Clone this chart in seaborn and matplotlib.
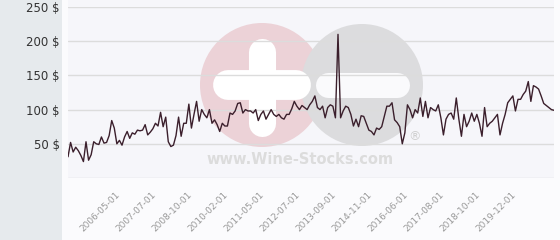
import matplotlib
matplotlib.use("Agg")
import matplotlib.pyplot as plt
import seaborn as sns
import pandas as pd
from matplotlib.patches import Circle, Rectangle

# ---- data ----
prices = [
    31, 52, 38, 45, 40, 33, 24, 53, 26, 34, 53, 50, 49, 60, 51, 52, 62, 84, 73, 50,
    55, 48, 60, 68, 58, 66, 64, 70, 69, 70, 78, 63, 67, 72, 80, 76, 96, 75, 89, 53,
    46, 48, 62, 89, 61, 80, 80, 108, 73,
    93, 112, 83, 100, 93, 88, 100, 80, 85, 78, 68, 80, 76, 76, 95, 93, 98, 109, 110, 95,
    100, 98, 98, 95, 100, 84, 93, 98, 86, 93, 100, 93, 90, 93, 88, 86, 93, 93, 101, 112,
    105, 100, 106, 103, 100, 107, 112, 120, 103, 100, 105, 88, 103, 107, 105, 88, 210, 88, 98, 105,
    103, 93, 76, 86, 75, 91, 90, 80, 70, 68, 63,
    73, 71, 75, 90, 105, 105, 110, 85, 81, 75, 50, 66, 107, 100, 88, 100, 95, 117, 90, 112,
    88, 103, 100, 98, 107, 88, 63, 86, 93, 95, 86, 117, 86, 61, 93, 75, 83, 95, 83, 93,
    80, 61, 103, 75, 80, 83, 88, 93, 63, 80, 93, 110, 115, 120, 98, 115, 115, 122, 127, 141,
    112, 135, 133, 130, 120, 109, 106, 103, 100, 99,
]
tick_labels = ["2006-05-01", "2007-07-01", "2008-10-01", "2010-02-01", "2011-05-01",
               "2012-07-01", "2013-09-01", "2014-11-01", "2016-06-01", "2017-08-01",
               "2018-10-01", "2019-12-01"]
y_ticks = [50, 100, 150, 200, 250]

df = pd.DataFrame({"idx": range(len(prices)), "price": prices})

sns.set_style("white")
plt.rcParams["font.family"] = ["DejaVu Sans"]

W, H = 560, 240
fig = plt.figure(figsize=(W / 100, H / 100), dpi=100, facecolor="#fbfbfd")

# background / decoration axes in pixel coordinates
bg = fig.add_axes([0, 0, 1, 1], zorder=0)
bg.set_xlim(0, W)
bg.set_ylim(H, 0)
bg.axis("off")
bg.add_patch(Rectangle((0, 0), 62, H, color="#e6eaed", lw=0))
bg.add_patch(Rectangle((68, 0), 486, 178, color="#f6f6fa", lw=0))
# watermark
bg.add_patch(Circle((262, 85), 62, color="#ecd2d7", lw=0))
bg.add_patch(Circle((362, 85), 61, color="#dcdcde", lw=0))
bg.plot([262, 262], [52, 123], color="white", lw=19.5, solid_capstyle="round")
bg.plot([228, 296], [85, 85], color="white", lw=21.5, solid_capstyle="round")
bg.plot([328, 397], [85, 85], color="#fafafc", lw=18, solid_capstyle="round")
bg.text(300, 160, "www.Wine-Stocks.com", ha="center", va="center",
        fontsize=10.5, fontweight="bold", color="#dcdcdc")
bg.text(415, 137, "®", ha="center", va="center", fontsize=9, color="#d0d0d0")

# main axes
ax = fig.add_axes([68 / W, (H - 178) / H, (554 - 68) / W, (178 - 7) / H], zorder=1)
ax.patch.set_alpha(0)
sns.lineplot(data=df, x="idx", y="price", ax=ax, color="#3b1f2c", linewidth=1.0)

ax.set_xlim(0, len(prices) - 1)
ax.set_ylim(0, 250)
ax.set_yticks([0] + y_ticks)
ax.set_yticklabels([""] + [f"{v} $" for v in y_ticks], fontsize=8.5, color="#333333")
ax.yaxis.grid(True, color="#dcdcdc", lw=1)
ax.set_axisbelow(True)

tick_pos = [21 + 14 * i for i in range(len(tick_labels))]
ax.set_xticks(tick_pos)
ax.set_xticklabels(tick_labels, rotation=45, ha="right", fontsize=6.5, color="#999999")
ax.tick_params(axis="both", length=0)
ax.tick_params(axis="y", pad=6)
ax.tick_params(axis="x", pad=9)
ax.set_xlabel("")
ax.set_ylabel("")
for s in ax.spines.values():
    s.set_visible(False)

fig.savefig("out.png", dpi=100, facecolor=fig.get_facecolor())
